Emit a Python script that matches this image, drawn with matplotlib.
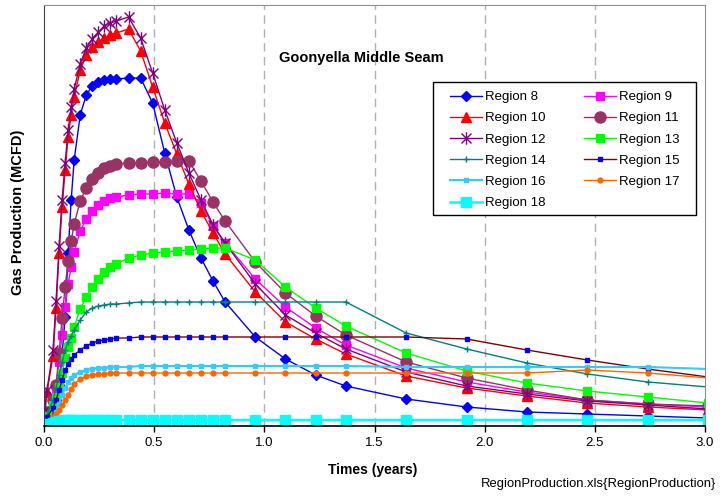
import matplotlib
matplotlib.use("Agg")
import matplotlib.pyplot as plt
from matplotlib.path import Path
from matplotlib.patches import Rectangle
import numpy as np

plt.rcParams['font.family'] = ['Liberation Sans', 'DejaVu Sans']

# ---------------- data (time in days, production in relative units) ----------------
days = [0, 1, 5, 15, 20, 25, 30, 35, 40, 45, 50, 60, 70, 80, 90, 100, 110, 120, 140, 160,
        180, 200, 220, 240, 260, 280, 300, 350, 400, 450, 500, 600, 700, 800, 900, 1000, 1100]

region8 = [2, 4, 8, 16, 26, 41, 71, 109, 173, 226, 266, 311, 331, 340, 344, 346, 347, 347, 348, 348,
           323, 273, 229, 196, 168, 145, 124, 89, 67, 51, 40, 27, 19, 14, 12, 10, 8]
region9 = [5, 8, 14, 24, 38, 64, 91, 119, 142, 159, 174, 195, 207, 215, 221, 225, 228, 229, 231, 232,
           232, 233, 232, 232, 223, 200, 183, 147, 119, 98, 81, 58, 44, 34, 26, 22, 19]
region10 = [6, 11, 34, 70, 118, 173, 219, 256, 289, 311, 329, 356, 371, 379, 384, 388, 391, 393, 397, 375,
            339, 303, 272, 242, 215, 193, 172, 134, 104, 87, 72, 50, 38, 30, 23, 19, 16]
region11 = [6, 8, 14, 26, 41, 73, 108, 139, 165, 185, 202, 225, 238, 247, 253, 258, 260, 262, 263, 263,
            264, 264, 265, 265, 245, 224, 205, 164, 133, 110, 91, 64, 48, 36, 26, 22, 20]
region12 = [8, 16, 36, 76, 125, 180, 226, 263, 296, 319, 337, 362, 378, 387, 394, 400, 403, 405, 409, 388,
            353, 316, 283, 253, 226, 201, 183, 142, 111, 93, 77, 54, 40, 32, 25, 21, 17]
region13 = [4, 6, 10, 21, 29, 39, 53, 68, 79, 88, 99, 117, 129, 139, 147, 154, 159, 162, 168, 171,
            173, 174, 175, 176, 177, 178, 178, 166, 139, 118, 100, 73, 55, 43, 35, 29, 23]
region14 = [4, 6, 11, 26, 38, 51, 64, 76, 84, 90, 96, 106, 114, 118, 120, 121, 122, 122, 123, 124,
            124, 124, 124, 124, 124, 124, 124, 124, 124, 124, 124, 93, 77, 63, 52, 44, 39]
region15 = [3, 5, 9, 18, 26, 36, 46, 56, 62, 67, 71, 76, 80, 83, 85, 86, 87, 88, 88, 89,
            89, 89, 89, 89, 89, 89, 89, 89, 89, 89, 89, 89, 87, 76, 66, 57, 49]
region16 = [1, 2, 4, 8, 14, 22, 31, 38, 44, 48, 51, 54, 56, 57, 58, 58, 59, 59, 59, 60,
            60, 60, 60, 60, 60, 60, 60, 60, 60, 60, 60, 59, 59, 59, 59, 59, 57]
region17 = [1, 2, 4, 8, 12, 16, 21, 26, 31, 37, 42, 47, 50, 51, 52, 52, 53, 53, 53, 53,
            53, 53, 53, 53, 53, 53, 53, 53, 53, 53, 53, 53, 53, 53, 56, 53, 48]
region18 = [1, 1, 2, 3, 4, 4.5, 5, 5.5, 6, 6, 6, 6, 6, 6, 6, 6, 6, 6, 6, 6,
            6, 6, 6, 6, 6, 6, 6, 6, 6, 6, 6, 6, 6, 6, 6, 6, 6]

labels = ["Region 8", "Region 9", "Region 10", "Region 11", "Region 12", "Region 13",
          "Region 14", "Region 15", "Region 16", "Region 17", "Region 18"]
xticks = [0.0, 0.5, 1.0, 1.5, 2.0, 2.5, 3.0]

# ---------------- styles ----------------
star = Path([(-1, -1), (1, 1), (-1, 1), (1, -1), (0, -1.25), (0, 1.25)],
            [Path.MOVETO, Path.LINETO, Path.MOVETO, Path.LINETO, Path.MOVETO, Path.LINETO])

styles = [
    dict(color="#0000FF", marker="D", ms=5, mfc="#0000FF", mec="#0000FF", lw=1.0),
    dict(color="#FF00FF", marker="s", ms=6, mfc="#FF00FF", mec="#FF00FF", lw=1.0),
    dict(color="#FF0000", marker="^", ms=7, mfc="#FF0000", mec="#FF0000", lw=1.0),
    dict(color="#993366", marker="o", ms=8, mfc="#993366", mec="#993366", lw=1.0),
    dict(color="#800080", marker=star, ms=9, mfc="none", mec="#800080", mew=1.0, lw=1.0),
    dict(color="#00FF00", marker="s", ms=6, mfc="#00FF00", mec="#00FF00", lw=1.0),
    dict(color="#008080", marker="+", ms=4.5, mfc="#008080", mec="#008080", mew=1.0, lw=1.0),
    dict(color="#800000", marker="s", ms=3, mfc="#0000FF", mec="#0000FF", lw=1.0),
    dict(color="#33CCFF", marker="s", ms=3.5, mfc="#33CCFF", mec="#33CCFF", lw=1.5),
    dict(color="#FF6600", marker="o", ms=3.5, mfc="#FF6600", mec="#FF6600", lw=1.0),
    dict(color="#00FFFF", marker="s", ms=6.5, mfc="#00FFFF", mec="#00FFFF", lw=1.8),
]

series = [region8, region9, region10, region11, region12, region13,
          region14, region15, region16, region17, region18]

# ---------------- figure ----------------
fig = plt.figure(figsize=(7.26, 4.99), dpi=100)
ax = fig.add_axes([0.0606, 0.1463, 0.9105, 0.8437])

years = np.array(days) / 365.0
handles = []
for vals, st, lab in zip(series, styles, labels):
    h, = ax.plot(years, vals, label=lab, clip_on=True, **st)
    handles.append(h)

ax.set_xlim(0, 3.0)
ax.set_ylim(0, 421)
ax.set_xticks(xticks)
ax.set_xticklabels([f"{t:.1f}" for t in xticks], fontsize=9.5)
ax.set_yticks([])
ax.tick_params(axis='x', direction='out', length=4, width=1, pad=4, color='black')

for t in xticks[1:-1]:
    ax.axvline(t, color='#B0B0B0', lw=1.0, dashes=(6, 4), zorder=0)

ax.spines['left'].set_color('#404040')
ax.spines['bottom'].set_color('black')
ax.spines['bottom'].set_linewidth(1.2)
ax.spines['top'].set_color('#909090')
ax.spines['right'].set_color('#909090')

ax.text(0.48, 0.874, "Goonyella Middle Seam", transform=ax.transAxes,
        ha='center', va='center', fontsize=10.5, fontweight='bold')

fig.text(0.025, 0.575, "Gas Production (MCFD)", rotation=90, ha='center', va='center',
         fontsize=10.5, fontweight='bold')
fig.text(0.514, 0.058, "Times (years)", ha='center', va='center', fontsize=10, fontweight='bold')
fig.text(0.986, 0.030, "RegionProduction.xls{RegionProduction}", ha='right', va='center', fontsize=9.4)

# legend box
box = Rectangle((0.5885, 0.5012), 0.3979, 0.3159, transform=ax.transAxes,
                facecolor='white', edgecolor='black', lw=1.0, zorder=4.9, clip_on=False)
ax.add_patch(box)

order = [0, 2, 4, 6, 8, 10, 1, 3, 5, 7, 9]
leg = ax.legend([handles[i] for i in order], [labels[i] for i in order],
                ncol=2, loc='upper left', bbox_to_anchor=(0.6142, 0.7958),
                fontsize=9.5, frameon=False, borderpad=0, handlelength=2.42,
                handletextpad=0.25, columnspacing=2.9, labelspacing=0.68,
                numpoints=1, borderaxespad=0)
leg.set_zorder(5)

fig.savefig("out.png", dpi=100)
